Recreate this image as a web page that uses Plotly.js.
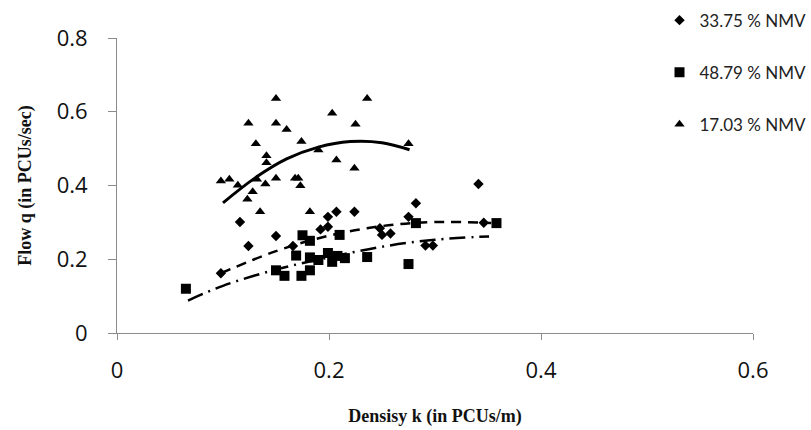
<!DOCTYPE html>
<html><head><meta charset="utf-8">
<script src="https://cdn.plot.ly/plotly-3.0.1.min.js"></script>
<style>html,body{margin:0;padding:0;background:#fff}#chart{width:811px;height:430px}</style>
</head><body><div id="chart"></div>
<script>
// 33.75 % NMV (diamonds)
const nmv3375K = [0.098,0.116,0.124,0.150,0.166,0.192,0.199,0.199,0.207,0.224,0.248,0.250,0.258,0.275,0.282,0.291,0.298,0.341,0.346];
const nmv3375Q = [0.162,0.301,0.236,0.263,0.236,0.281,0.288,0.315,0.329,0.329,0.284,0.266,0.270,0.315,0.352,0.237,0.237,0.404,0.299];
// 48.79 % NMV (squares)
const nmv4879K = [0.065,0.150,0.158,0.174,0.182,0.175,0.182,0.169,0.182,0.190,0.199,0.203,0.208,0.215,0.236,0.210,0.275,0.282,0.358];
const nmv4879Q = [0.120,0.170,0.155,0.155,0.170,0.265,0.250,0.210,0.205,0.198,0.217,0.193,0.209,0.203,0.206,0.266,0.187,0.298,0.298];
// 17.03 % NMV (triangles)
const nmv1703K = [0.150,0.203,0.236,0.124,0.150,0.225,0.160,0.131,0.174,0.190,0.275,0.141,0.141,0.207,0.224,0.098,0.106,0.114,0.132,0.140,0.150,0.168,0.171,0.173,0.128,0.123,0.135,0.182];
const nmv1703Q = [0.636,0.596,0.636,0.569,0.569,0.566,0.552,0.513,0.519,0.496,0.513,0.481,0.462,0.469,0.447,0.412,0.417,0.401,0.417,0.404,0.420,0.420,0.420,0.399,0.383,0.363,0.329,0.329];
// trend lines
const trend3375K = [0.098,0.150,0.200,0.250,0.300,0.353];
const trend3375Q = [0.162,0.222,0.264,0.290,0.301,0.298];
const trend4879K = [0.067,0.100,0.150,0.200,0.250,0.300,0.351];
const trend4879Q = [0.088,0.128,0.172,0.205,0.234,0.253,0.262];
const trend1703K = [0.100,0.130,0.160,0.190,0.220,0.250,0.276];
const trend1703Q = [0.353,0.420,0.472,0.504,0.519,0.516,0.497];
const seriesNames = ['33.75 % NMV','48.79 % NMV','17.03 % NMV'];
const xTicks = [0,0.2,0.4,0.6];
const yTicks = [0,0.2,0.4,0.6,0.8];

const traces = [
  {x:nmv3375K,y:nmv3375Q,mode:'markers',type:'scatter',name:seriesNames[0],legendgroup:'a',
   marker:{symbol:'diamond',size:8,color:'#000'}},
  {x:nmv4879K,y:nmv4879Q,mode:'markers',type:'scatter',name:seriesNames[1],legendgroup:'b',
   marker:{symbol:'square',size:10,color:'#000'}},
  {x:nmv1703K,y:nmv1703Q,mode:'markers',type:'scatter',name:seriesNames[2],legendgroup:'c',
   marker:{symbol:'triangle-up',size:9,color:'#000'}},
  {x:trend3375K,y:trend3375Q,mode:'lines',type:'scatter',showlegend:false,
   line:{shape:'spline',color:'#000',width:2.5,dash:'10px,7px'}},
  {x:trend4879K,y:trend4879Q,mode:'lines',type:'scatter',showlegend:false,
   line:{shape:'spline',color:'#000',width:2.5,dash:'16px,6px,2px,6px'}},
  {x:trend1703K,y:trend1703Q,mode:'lines',type:'scatter',showlegend:false,
   line:{shape:'spline',color:'#000',width:3}}
];

const layout = {
  width:811,height:430,
  margin:{l:117,r:58,t:38,b:97,autoexpand:false},
  paper_bgcolor:'#fff',plot_bgcolor:'#fff',
  showlegend:true,
  legend:{x:0.853,y:1.12,xanchor:'left',yanchor:'top',tracegroupgap:27,
          font:{family:'Lato, sans-serif',size:17,color:'#222'},bgcolor:'rgba(0,0,0,0)'},
  xaxis:{range:[0,0.6],tickvals:xTicks,ticktext:xTicks.map(String),showgrid:false,zeroline:false,
         showline:true,linecolor:'#8c8c8c',linewidth:1,ticks:'outside',ticklen:6,tickcolor:'#8c8c8c',
         ticklabelstandoff:12,
         tickfont:{family:'Open Sans, sans-serif',size:22,color:'#111'},
         title:{text:'<b>Densisy k (in PCUs/m)</b>',standoff:25,font:{family:'Liberation Serif, serif',size:18,color:'#111'}}},
  yaxis:{range:[0,0.8],tickvals:yTicks,ticktext:yTicks.map(String),showgrid:false,zeroline:false,
         showline:true,linecolor:'#8c8c8c',linewidth:1,ticks:'outside',ticklen:8,tickcolor:'#8c8c8c',
         ticklabelstandoff:16,
         tickfont:{family:'Open Sans, sans-serif',size:22,color:'#111'},
         title:{text:'<b>Flow q (in PCUs/sec)</b>',standoff:20,font:{family:'Liberation Serif, serif',size:18,color:'#111'}}}
};
Plotly.newPlot('chart',traces,layout,{displayModeBar:false,staticPlot:true});
</script></body></html>
